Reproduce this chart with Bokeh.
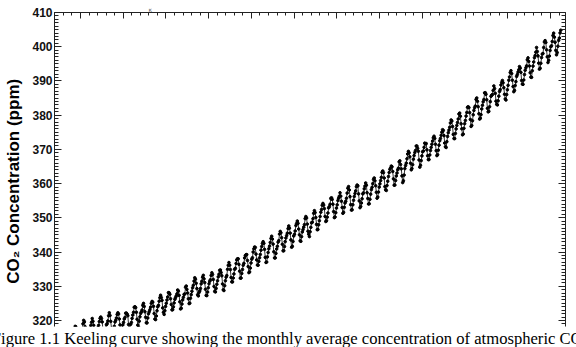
import math
from bokeh.plotting import figure
from bokeh.models import Range1d, LinearAxis, FixedTicker, Title, ColumnDataSource
from bokeh.embed import file_html
from bokeh.resources import INLINE

# ---------------- data (monthly mean CO2, ppm) ----------------
start_year = 1958
start_month = 3

co2_1958_1959 = [315.71, 317.45, 317.50, 317.10, 315.86, 314.93, 313.20, 312.66, 313.33, 314.67,
                 315.62, 316.38, 316.71, 317.72, 318.29, 318.15, 316.54, 314.80, 313.84, 313.26, 314.80, 315.58]

co2_1960s = [316.43, 316.97, 317.58, 319.02, 320.03, 319.59, 318.18, 315.91, 314.16, 313.83, 315.00, 316.19,
             316.93, 317.70, 318.54, 319.48, 320.58, 319.77, 318.57, 316.79, 314.80, 315.38, 316.10, 317.01,
             317.94, 318.56, 319.68, 320.63, 321.01, 320.55, 319.58, 317.40, 316.26, 315.42, 316.69, 317.69,
             318.74, 319.08, 319.86, 321.39, 322.25, 321.47, 319.74, 317.77, 316.21, 315.99, 317.12, 318.31,
             319.57, 320.07, 320.73, 321.77, 322.25, 321.89, 320.44, 318.70, 316.70, 316.79, 317.79, 318.71,
             319.44, 320.44, 320.89, 322.13, 322.16, 321.87, 321.39, 318.81, 317.81, 317.30, 318.87, 319.42,
             320.62, 321.59, 322.39, 323.87, 324.01, 323.75, 322.39, 320.37, 318.64, 318.10, 319.79, 321.08,
             322.07, 322.50, 323.04, 324.42, 325.00, 324.09, 322.55, 320.92, 319.31, 319.31, 320.72, 321.96,
             322.57, 323.15, 323.89, 325.02, 325.57, 325.36, 324.14, 322.03, 320.41, 320.25, 321.31, 322.84,
             324.00, 324.42, 325.64, 326.66, 327.38, 326.70, 325.89, 323.67, 322.38, 321.78, 322.85, 324.12]

co2_1970s = [325.03, 325.99, 326.87, 328.13, 328.07, 327.66, 326.35, 324.69, 323.10, 323.16, 323.98, 325.13,
             326.17, 326.68, 327.18, 327.78, 328.92, 328.57, 327.34, 325.46, 323.36, 323.57, 324.80, 326.01,
             326.77, 327.63, 327.75, 329.72, 330.07, 329.09, 328.05, 326.32, 324.93, 325.06, 326.50, 327.55,
             328.54, 329.56, 330.30, 331.50, 332.48, 332.07, 330.87, 329.31, 327.51, 327.18, 328.16, 328.64,
             329.35, 330.71, 331.48, 332.65, 333.20, 332.16, 331.07, 329.12, 327.32, 327.28, 328.30, 329.58,
             330.73, 331.46, 331.90, 333.17, 333.94, 333.45, 331.98, 329.95, 328.50, 328.34, 329.37, 330.58,
             331.59, 332.75, 333.52, 334.64, 334.77, 334.00, 333.06, 330.68, 328.95, 328.75, 330.15, 331.62,
             332.66, 333.13, 334.95, 336.13, 336.93, 336.17, 334.88, 332.56, 331.29, 331.27, 332.41, 333.60,
             334.95, 335.25, 336.66, 337.69, 338.03, 338.01, 336.41, 334.41, 332.37, 332.41, 333.75, 334.90,
             336.14, 336.69, 338.27, 338.96, 339.21, 339.26, 337.54, 335.75, 333.98, 334.19, 335.31, 336.81]

co2_1980s = [337.90, 338.34, 340.01, 340.93, 341.48, 341.33, 339.40, 337.70, 336.19, 336.15, 337.27, 338.32,
             339.29, 340.55, 341.61, 342.53, 343.03, 342.54, 340.78, 338.44, 336.95, 337.08, 338.58, 339.88,
             340.96, 341.73, 342.81, 343.97, 344.63, 343.79, 342.32, 340.09, 338.28, 338.29, 339.60, 340.90,
             341.68, 342.90, 343.33, 345.25, 346.03, 345.63, 344.19, 342.27, 340.35, 340.38, 341.59, 343.05,
             344.10, 344.79, 345.52, 346.84, 347.63, 346.98, 345.53, 343.55, 341.40, 341.67, 343.10, 344.70,
             345.21, 346.16, 347.74, 348.34, 349.06, 348.38, 346.72, 345.02, 343.27, 343.13, 344.49, 345.88,
             346.56, 347.28, 348.01, 349.77, 350.38, 349.93, 348.16, 346.08, 345.22, 344.51, 345.93, 347.22,
             348.52, 348.73, 349.73, 351.31, 352.09, 351.53, 350.11, 348.08, 346.52, 346.59, 347.96, 349.16,
             350.39, 351.64, 352.41, 353.69, 354.21, 353.72, 352.69, 350.40, 348.92, 349.13, 350.20, 351.41,
             352.91, 353.27, 353.96, 355.64, 355.86, 355.37, 353.99, 351.81, 350.05, 350.25, 351.49, 352.85]

co2_1990s = [353.80, 355.04, 355.73, 356.32, 357.32, 356.34, 354.84, 353.01, 351.31, 351.62, 353.07, 354.33,
             354.84, 355.73, 357.23, 358.66, 359.13, 358.13, 356.19, 353.85, 352.25, 352.35, 353.81, 355.12,
             356.25, 357.11, 357.86, 359.09, 359.59, 359.33, 357.01, 354.94, 352.96, 353.32, 354.32, 355.57,
             357.00, 357.31, 358.47, 359.27, 360.19, 359.52, 357.33, 355.64, 354.03, 354.12, 355.41, 356.91,
             358.24, 358.92, 359.99, 361.23, 361.65, 360.81, 359.38, 357.46, 355.73, 356.08, 357.53, 358.98,
             359.92, 360.86, 361.83, 363.30, 363.69, 363.19, 361.64, 359.12, 358.17, 357.99, 359.45, 360.68,
             362.07, 363.24, 364.17, 364.57, 365.13, 364.92, 363.55, 361.38, 359.54, 359.58, 360.89, 362.24,
             363.09, 364.03, 364.51, 366.35, 366.64, 365.59, 364.31, 362.25, 360.29, 360.82, 362.49, 364.38,
             365.26, 365.98, 367.24, 368.66, 369.42, 368.99, 367.82, 365.95, 364.02, 364.40, 365.52, 367.13,
             368.18, 369.07, 369.68, 370.99, 370.96, 370.30, 369.45, 366.90, 364.81, 365.37, 366.72, 368.10]

co2_2000s = [369.29, 369.54, 370.60, 371.82, 371.58, 371.70, 369.86, 368.13, 367.00, 367.03, 368.37, 369.67,
             370.59, 371.51, 372.43, 373.37, 373.85, 373.21, 371.51, 369.61, 368.18, 368.45, 369.76, 371.24,
             372.53, 373.20, 374.12, 375.02, 375.76, 375.52, 374.01, 371.85, 370.75, 370.55, 372.25, 373.79,
             374.88, 375.64, 376.45, 377.73, 378.60, 378.28, 376.70, 374.38, 373.17, 373.15, 374.66, 375.99,
             377.00, 377.87, 378.88, 380.35, 380.62, 379.69, 377.47, 376.01, 374.25, 374.46, 376.16, 377.51,
             378.46, 379.73, 380.77, 382.29, 382.45, 382.21, 380.74, 378.74, 376.70, 377.00, 378.35, 380.11,
             381.38, 382.19, 382.67, 384.61, 385.03, 384.05, 382.46, 380.41, 378.85, 379.13, 380.15, 381.82,
             382.89, 383.90, 384.58, 386.50, 386.56, 386.10, 384.50, 381.99, 380.96, 381.12, 382.45, 383.95,
             385.52, 385.82, 386.03, 387.21, 388.54, 387.76, 386.36, 384.09, 383.18, 382.99, 384.19, 385.56,
             386.94, 387.48, 388.82, 389.55, 390.14, 389.48, 388.03, 386.11, 384.74, 384.43, 386.02, 387.42]

co2_2010s = [388.71, 390.20, 391.17, 392.46, 393.00, 392.15, 390.20, 388.35, 386.85, 387.24, 388.67, 389.79,
             391.33, 391.86, 392.60, 393.25, 394.19, 393.74, 392.51, 390.13, 389.08, 389.00, 390.28, 391.86,
             393.12, 393.86, 394.40, 396.18, 396.74, 395.71, 394.36, 392.39, 391.11, 391.05, 392.98, 394.34,
             395.55, 396.80, 397.43, 398.41, 399.78, 398.60, 397.32, 395.20, 393.45, 393.70, 395.16, 396.84,
             397.85, 398.01, 399.77, 401.38, 401.78, 401.25, 399.10, 397.03, 395.38, 396.03, 397.28, 398.91,
             399.98, 400.28, 401.54, 403.28, 403.96, 402.80, 401.31, 398.93, 397.63, 398.29, 400.16, 401.85,
             402.52, 404.04, 404.83]

y_ticks = [320, 330, 340, 350, 360, 370, 380, 390, 400, 410]
x_ticks = [1960, 1965, 1970, 1975, 1980, 1985, 1990, 1995, 2000, 2005, 2010, 2015]

caption = "Figure 1.1 Keeling curve showing the monthly average concentration of atmospheric CO"
ylabel = "CO\u2082 Concentration (ppm)"
stray_mark = "\u03ba"

values = co2_1958_1959 + co2_1960s + co2_1970s + co2_1980s + co2_1990s + co2_2000s + co2_2010s
dates = [start_year + (start_month - 1 + i + 0.5) / 12.0 for i in range(len(values))]
src = ColumnDataSource(data=dict(x=dates, y=values))

# ---------------- figure ----------------
p = figure(width=576, height=347,
           x_range=Range1d(1956.96, 2016.76), y_range=Range1d(318.24, 410),
           x_axis_location=None, y_axis_location=None,
           output_backend="svg", toolbar_location=None,
           min_border_left=54, min_border_right=11, min_border_top=12, min_border_bottom=21,
           outline_line_color=None, background_fill_color="white", border_fill_color="white")
p.grid.grid_line_color = None
p.grid.visible = False

axis_col = "#222222"
y_minor = list(range(318, 411))
x_minor = list(range(1957, 2017))

def make_axis(ticks, minor, show_labels):
    ax = LinearAxis(ticker=FixedTicker(ticks=ticks, minor_ticks=minor))
    ax.axis_line_color = axis_col
    ax.axis_line_width = 1
    ax.major_tick_line_color = axis_col
    ax.minor_tick_line_color = axis_col
    ax.major_tick_out = 0
    ax.minor_tick_out = 0
    ax.major_tick_in = 7
    ax.minor_tick_in = 4
    if show_labels:
        ax.major_label_standoff = 2
        ax.major_label_text_font = "Liberation Sans"
        ax.major_label_text_font_style = "bold"
        ax.major_label_text_font_size = "12px"
        ax.major_label_text_color = "#111111"
    else:
        ax.major_label_standoff = 0
        ax.major_label_text_font_size = "0px"
    return ax

left_ax = make_axis(y_ticks, y_minor, True)
left_ax.axis_label = ylabel + "\u00a0" * 5
left_ax.axis_label_text_font = "Liberation Sans"
left_ax.axis_label_text_font_style = "bold"
left_ax.axis_label_text_font_size = "17px"
left_ax.axis_label_text_color = "black"
left_ax.axis_label_standoff = 6
p.add_layout(left_ax, "left")
p.add_layout(make_axis(y_ticks, y_minor, False), "right")
top_ax = make_axis(x_ticks, x_minor, False)
top_ax.major_tick_in = 6
top_ax.minor_tick_in = 3
p.add_layout(top_ax, "above")

p.line("x", "y", source=src, line_color="black", line_width=0.8)
p.scatter("x", "y", source=src, size=2.6, color="black")

# tiny stray mark above the frame (present in the source image)
mark = Title(text=stray_mark, align="left", offset=94, standoff=0,
             text_font="DejaVu Sans", text_font_size="6px", text_font_style="normal",
             text_color="#555555")
p.add_layout(mark, "above")

# caption below the plot
cap = Title(text=caption, align="left", offset=-62.7, standoff=0,
            text_font="Liberation Serif", text_font_size="16.6px", text_font_style="normal",
            text_color="black")
p.add_layout(cap, "below")

open("out.html", "w").write(file_html(p, INLINE))
